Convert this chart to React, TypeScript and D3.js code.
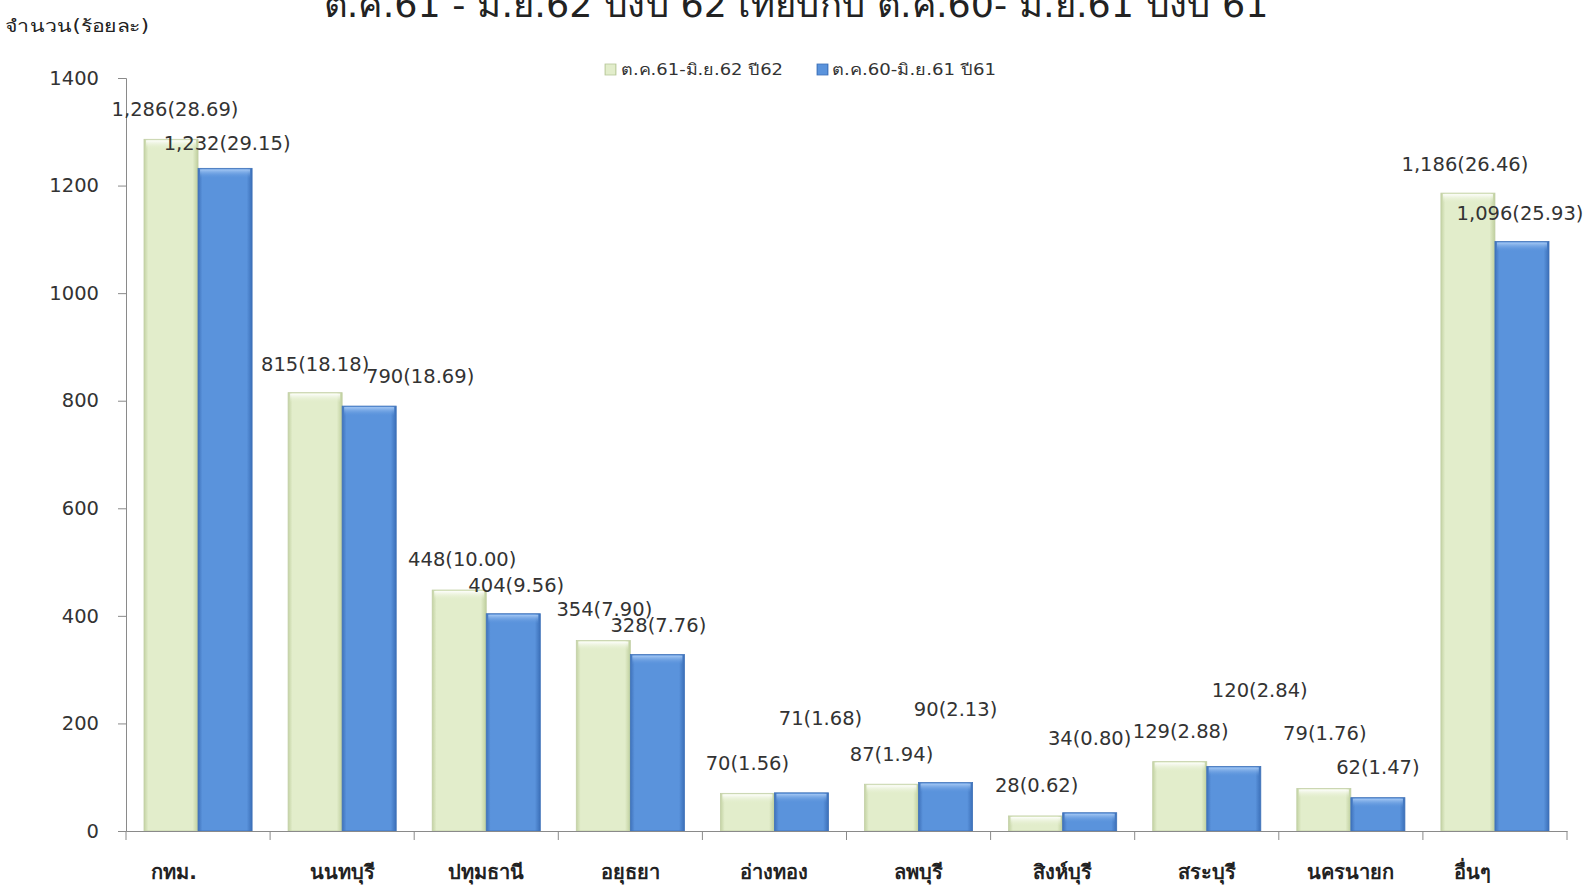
import React, {useEffect, useRef} from 'react';
import {select, scaleBand, scaleLinear, axisLeft, axisBottom} from 'd3';

const categories = ['กทม.', 'นนทบุรี', 'ปทุมธานี', 'อยุธยา', 'อ่างทอง', 'ลพบุรี', 'สิงห์บุรี', 'สระบุรี', 'นครนายก', 'อื่นๆ'];
const series = ['ต.ค.61-มิ.ย.62 ปี62', 'ต.ค.60-มิ.ย.61 ปี61'];
const values62 = [1286, 815, 448, 354, 70, 87, 28, 129, 79, 1186];
const values61 = [1232, 790, 404, 328, 71, 90, 34, 120, 62, 1096];
const pct62 = ['28.69', '18.18', '10.00', '7.90', '1.56', '1.94', '0.62', '2.88', '1.76', '26.46'];
const pct61 = ['29.15', '18.69', '9.56', '7.76', '1.68', '2.13', '0.80', '2.84', '1.47', '25.93'];
const yTicks = [0, 200, 400, 600, 800, 1000, 1200, 1400];

// label nudges (px) - excel put some labels by hand
const dx62 = [4, 0, 3, 1, 0, 0, 1, 1, 1, -3];
const dy62 = [30, 28, 31, 31, 30, 30, 30, 30, 55, 29];
const dx61 = [2, 51, 3, 1, 19, 10, 0, 26, 0, -2];
const dy61 = [25, 30, 28, 29, 74, 73, 74, 76, 30, 28];
const catDx = [-24, 0, 0, 0, 0, 0, 0, 0, 0, -22];

const title = 'ต.ค.61 - มิ.ย.62 ปีงบ 62 เทียบกับ ต.ค.60- มิ.ย.61 ปีงบ 61';
const font = 'Tahoma, "DejaVu Sans", "Noto Sans", sans-serif';

const W = 1585, H = 888;
const left = 126, right = 1567, top = 78, bottom = 831;

const fmt = (v: number) => v.toLocaleString('en-US');

const App = (): JSX.Element => {
    const yRef = useRef(null);
    const xRef = useRef(null);

    const x0 = scaleBand().domain(categories).range([left, right]).padding(0);
    const x1 = scaleBand().domain(series).range([0, x0.bandwidth()]).paddingInner(0).paddingOuter(0.333);
    const y = scaleLinear().domain([0, 1400]).range([bottom, top]);

    useEffect(() => {
        const ya = axisLeft(y).tickValues(yTicks).tickSize(8).tickPadding(19).tickFormat((d: any) => String(d));
        const gy = select(yRef.current);
        gy.call(ya as any);
        gy.selectAll('text').attr('font-size', 19.5).attr('fill', '#333').attr('font-family', font);
        gy.selectAll('line, path').attr('stroke', '#8a8a8a');

        const xa = axisBottom(x0).tickSize(0).tickFormat(() => '');
        const gx = select(xRef.current);
        gx.call(xa as any);
        gx.selectAll('.tick').remove();
        gx.select('path').attr('stroke', '#8a8a8a');
        gx.selectAll('.sep').data([...categories.map(c => x0(c) as number), right])
            .join('line')
            .attr('class', 'sep')
            .attr('x1', d => d).attr('x2', d => d)
            .attr('y1', 0).attr('y2', 9)
            .attr('stroke', '#8a8a8a');
    }, []);

    const bw = x1.bandwidth();

    const bar = (cat: string, i: number, v: number, si: number) => {
        const bx = (x0(cat) as number) + (x1(series[si]) as number);
        const by = y(v);
        const h = bottom - by;
        const g = si === 0 ? 'gGreen' : 'gBlue';
        const t = si === 0 ? 'tGreen' : 'tBlue';
        return (
            <g key={cat + si}>
                <rect x={bx} y={by} width={bw} height={h} fill={`url(#${g})`} />
                <rect x={bx + 2} y={by + 1} width={bw - 4} height={Math.min(9, h - 1)} fill={`url(#${t})`} />
                <rect x={bx} y={by} width={bw} height={h} fill="none" stroke={si === 0 ? '#c2cfa6' : '#3f72b8'} strokeWidth={0.8} />
            </g>
        );
    };

    return (
        <svg width={W} height={H} viewBox={`0 0 ${W} ${H}`} style={{position: 'absolute', left: 0, top: 0, background: '#fff'}} fontFamily={font}>
            <defs>
                <linearGradient id="gGreen" x1="0" x2="1" y1="0" y2="0">
                    <stop offset="0" stopColor="#c3d2a3" />
                    <stop offset="0.08" stopColor="#e2edcb" />
                    <stop offset="0.9" stopColor="#e2edcb" />
                    <stop offset="1" stopColor="#bfcf9d" />
                </linearGradient>
                <linearGradient id="gBlue" x1="0" x2="1" y1="0" y2="0">
                    <stop offset="0" stopColor="#3f72bb" />
                    <stop offset="0.08" stopColor="#5a93dc" />
                    <stop offset="0.9" stopColor="#5a93dc" />
                    <stop offset="1" stopColor="#3b6fb8" />
                </linearGradient>
                <linearGradient id="tGreen" x1="0" x2="0" y1="0" y2="1">
                    <stop offset="0" stopColor="#ffffff" stopOpacity={0.95} />
                    <stop offset="1" stopColor="#e2edcb" stopOpacity={0} />
                </linearGradient>
                <linearGradient id="tBlue" x1="0" x2="0" y1="0" y2="1">
                    <stop offset="0" stopColor="#a9cbf5" stopOpacity={0.95} />
                    <stop offset="1" stopColor="#5a93dc" stopOpacity={0} />
                </linearGradient>
            </defs>

            <text x={796} y={17} textAnchor="middle" fontSize={36} textLength={945} lengthAdjust="spacingAndGlyphs" fill="#222">{title}</text>
            <text x={5} y={32} fontSize={17} textLength={144} lengthAdjust="spacingAndGlyphs" fill="#222">จำนวน(ร้อยละ)</text>

            {/* legend */}
            <rect x={605} y={64} width={11} height={11} fill="url(#gGreen)" stroke="#b7c79a" strokeWidth={0.8} />
            <text x={621} y={70} dominantBaseline="central" fontSize={15} textLength={162} lengthAdjust="spacingAndGlyphs" fill="#333">{series[0]}</text>
            <rect x={817} y={64} width={11} height={11} fill="url(#gBlue)" stroke="#3f72b8" strokeWidth={0.8} />
            <text x={832} y={70} dominantBaseline="central" fontSize={15} textLength={164} lengthAdjust="spacingAndGlyphs" fill="#333">{series[1]}</text>

            {categories.map((c, i) => bar(c, i, values62[i], 0))}
            {categories.map((c, i) => bar(c, i, values61[i], 1))}

            <g ref={yRef} transform={`translate(${left},0)`} />
            <g ref={xRef} transform={`translate(0,${bottom})`} />

            {categories.map((c, i) => (
                <text key={'c' + c} x={(x0(c) as number) + x0.bandwidth() / 2 + catDx[i]} y={872} textAnchor="middle" dominantBaseline="central" fontSize={20} fontWeight="bold" fill="#222">{c}</text>
            ))}

            {categories.map((c, i) => (
                <text key={'l62' + c} x={(x0(c) as number) + (x1(series[0]) as number) + bw / 2 + dx62[i]} y={y(values62[i]) - dy62[i]} textAnchor="middle" dominantBaseline="central" fontSize={19.5} fill="#333">
                    {`${fmt(values62[i])}(${pct62[i]})`}
                </text>
            ))}
            {categories.map((c, i) => (
                <text key={'l61' + c} x={(x0(c) as number) + (x1(series[1]) as number) + bw / 2 + dx61[i]} y={y(values61[i]) - dy61[i]} textAnchor="middle" dominantBaseline="central" fontSize={19.5} fill="#333">
                    {`${fmt(values61[i])}(${pct61[i]})`}
                </text>
            ))}
        </svg>
    );
};

export default App;
